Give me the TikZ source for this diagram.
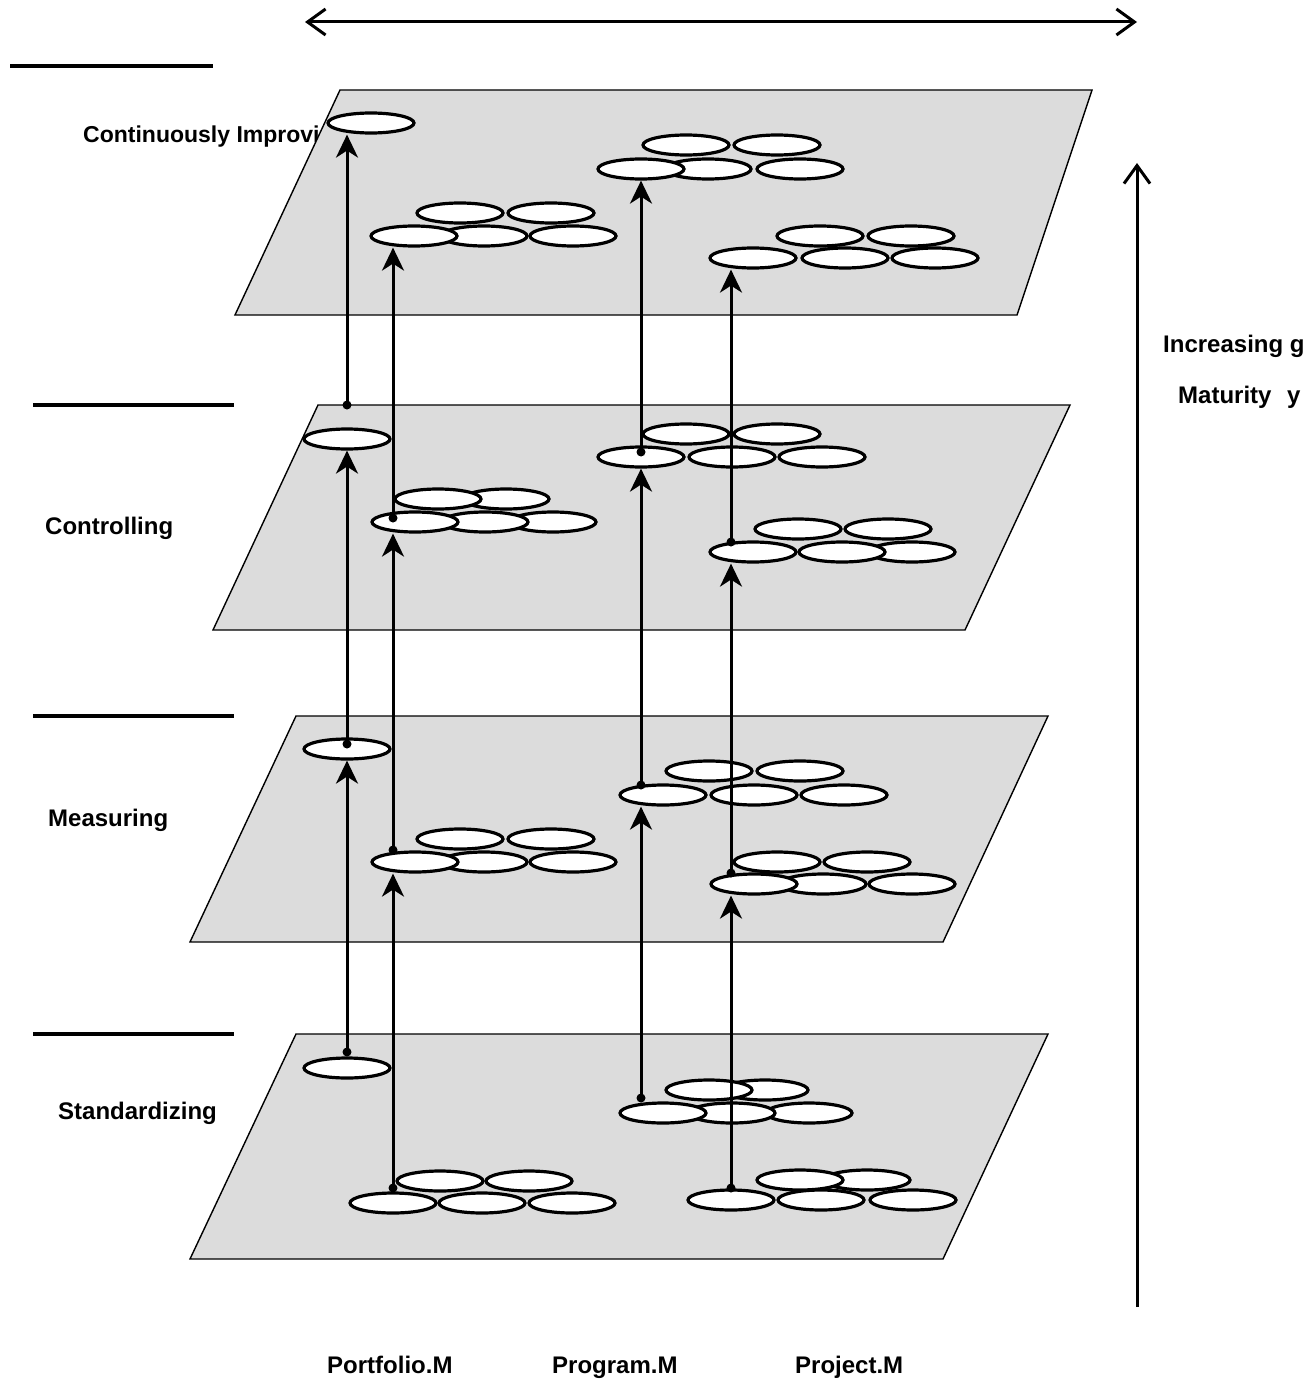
\documentclass[tikz,border=0pt]{standalone}
\usepackage{fontspec}
\setmainfont{Liberation Sans}
\usetikzlibrary{shapes.geometric,arrows.meta}
\definecolor{planefill}{RGB}{220,220,220}

% five overlapping ovals: #1 name, #2/#3 back-row x, #4/#5/#6 front-row x, #7 back y, #8 front y
\newcommand\ovalcluster[8]{%
  \node[disc] (#1-br) at (#3,#7) {};
  \node[disc] (#1-bl) at (#2,#7) {};
  \node[disc] (#1-fr) at (#6,#8) {};
  \node[disc] (#1-fm) at (#5,#8) {};
  \node[disc] (#1-fl) at (#4,#8) {};
}

\begin{document}
\begin{tikzpicture}[x=1pt,y=-1pt,
  plane/.style={fill=planefill,draw=black,line width=1.4pt},
  disc/.style={ellipse,draw=black,fill=white,line width=3.2pt,
               minimum width=86pt,minimum height=20pt,inner sep=0pt},
  lab/.style={font=\fontsize{24}{28}\selectfont\bfseries,inner sep=0pt,anchor=base west},
  flow/.style={line width=3pt,-{Stealth[length=23pt,width=22pt,inset=7pt]}},
  axis/.style={line width=3pt,{Straight Barb[length=18pt,width=26pt,line width=3pt]}-{Straight Barb[length=18pt,width=26pt,line width=3pt]}},
  uparrow/.style={line width=3pt,-{Straight Barb[length=18pt,width=26pt,line width=3pt]}},
  bar/.style={line width=3.5pt},
  dot/.style={fill=black}
]
\useasboundingbox (0,0) rectangle (1313,1383);

% level names at the left (the top one runs under its plane)
\node[lab,font=\fontsize{23}{28}\selectfont\bfseries] (lci) at (83,143) {Continuously Improving};
\node[lab] (lco) at (45,534) {Controlling};
\node[lab] (lme) at (48,826) {Measuring};
\node[lab] (lst) at (58,1119) {Standardizing};

% level separators
\draw[bar] (10,66) -- (213,66);
\draw[bar] (33,405) -- (234,405);
\draw[bar] (33,716) -- (234,716);
\draw[bar] (33,1034) -- (234,1034);

% planes
\draw[plane] (340,90) -- (1092,90) -- (1017,315) -- (235,315) -- cycle;
\draw[plane] (318,405) -- (1070,405) -- (965,630) -- (213,630) -- cycle;
\draw[plane] (296,716) -- (1048,716) -- (943,942) -- (190,942) -- cycle;
\draw[plane] (296,1034) -- (1048,1034) -- (943,1259) -- (190,1259) -- cycle;

% level 1
\node[disc] (s1) at (371,123) {};
\ovalcluster{pf1}{460}{551}{414}{484}{573}{213}{236}
\ovalcluster{pg1}{686}{777}{641}{708}{800}{145}{169}
\ovalcluster{pj1}{820}{911}{753}{845}{935}{236}{258}

% level 2
\node[disc] (s2) at (347,439) {};
\ovalcluster{pf2}{438}{506}{415}{485}{553}{499}{522}
\ovalcluster{pg2}{686}{777}{641}{732}{822}{434}{457}
\ovalcluster{pj2}{798}{888}{753}{842}{912}{529}{552}

% level 3
\node[disc] (s3) at (347,749) {};
\ovalcluster{pf3}{460}{551}{415}{484}{573}{839}{862}
\ovalcluster{pg3}{709}{800}{663}{754}{844}{771}{795}
\ovalcluster{pj3}{777}{867}{754}{823}{912}{862}{884}

% level 4
\node[disc] (s4) at (347,1068) {};
\ovalcluster{pf4}{440}{529}{393}{482}{572}{1181}{1203}
\ovalcluster{pg4}{709}{765}{663}{732}{809}{1090}{1113}
\ovalcluster{pj4}{800}{867}{731}{821}{913}{1180}{1200}

% starting points of the links between levels
\coordinate (a4) at (347,1052);
\coordinate (a3) at (347,744);
\coordinate (a2) at (347,405);
\coordinate (b4) at (393,1188);
\coordinate (b3) at (393,850);
\coordinate (b2) at (393,518);
\coordinate (c4) at (641,1098);
\coordinate (c3) at (641,785);
\coordinate (c2) at (641,452);
\coordinate (d4) at (731,1188);
\coordinate (d3) at (731,873);
\coordinate (d2) at (731,542);

\draw[flow] (a4) -- (a4 |- s3.south);
\draw[flow] (a3) -- (a3 |- s2.south);
\draw[flow] (a2) -- (a2 |- s1.south);
\draw[flow] (b4) -- (b4 |- pf3-fl.south);
\draw[flow] (b3) -- (b3 |- pf2-fl.south);
\draw[flow] (b2) -- (b2 |- pf1-fl.south);
\draw[flow] (c4) -- (c4 |- pg3-fl.south);
\draw[flow] (c3) -- (c3 |- pg2-fl.south);
\draw[flow] (c2) -- (c2 |- pg1-fl.south);
\draw[flow] (d4) -- (d4 |- pj3-fl.south);
\draw[flow] (d3) -- (d3 |- pj2-fl.south);
\draw[flow] (d2) -- (d2 |- pj1-fl.south);

\foreach \p in {a4,a3,a2,b4,b3,b2,c4,c3,c2,d4,d3,d2}
  \fill[dot] (\p) circle (4.5);

% scope arrow along the top and maturity arrow at the right
\coordinate (hl) at (305,22);
\coordinate (hr) at (1137,22);
\draw[axis] (hl) -- (hr);
\coordinate (vb) at (1137,1307);
\coordinate (vt) at (1137,163);
\draw[uparrow] (vb) -- (vt);

\node[lab] (inc) at (1163,352) {Increasing g};
\node[lab] (mat) at (1178,403) {Maturity\hspace{9pt} y};

% management levels
\node[lab] (pfm) at (327,1373) {Portfolio.M};
\node[lab] (pgm) at (552,1373) {Program.M};
\node[lab] (pjm) at (795,1373) {Project.M};
\end{tikzpicture}
\end{document}
